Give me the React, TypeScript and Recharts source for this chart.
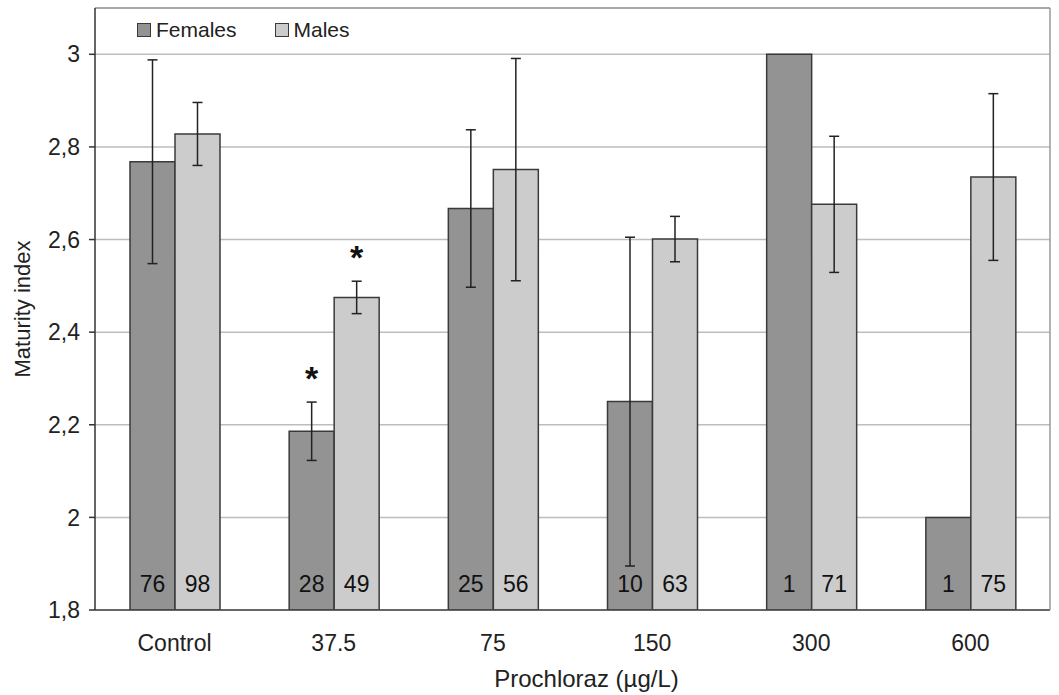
import {
  Bar,
  BarChart,
  CartesianGrid,
  ErrorBar,
  Label,
  LabelList,
  ReferenceLine,
  XAxis,
  YAxis,
} from 'recharts'

const categories = ['Control', '37.5', '75', '150', '300', '600']
const femaleMean = [2.768, 2.186, 2.667, 2.25, 3.0, 2.0]
const femaleErr = [0.22, 0.063, 0.17, 0.355, null, null]
const maleMean = [2.828, 2.475, 2.751, 2.601, 2.676, 2.735]
const maleErr = [0.068, 0.035, 0.24, 0.049, 0.147, 0.18]
const femaleN = [76, 28, 25, 10, 1, 1]
const maleN = [98, 49, 56, 63, 71, 75]
const femaleSig = [false, true, false, false, false, false]
const maleSig = [false, true, false, false, false, false]
const yTicks = [1.8, 2, 2.2, 2.4, 2.6, 2.8, 3]

const Y_MIN = 1.8
const Y_MAX = 3.1
const FONT = '"Liberation Sans", Arial, sans-serif'
const FEMALE_FILL = '#939393'
const MALE_FILL = '#cccccc'
const BAR_STROKE = '#3a3a3a'

const data = categories.map((c, i) => ({
  dose: c,
  female: femaleMean[i],
  femaleErr: femaleErr[i],
  male: maleMean[i],
  maleErr: maleErr[i],
}))

const fmtTick = (v: number) => {
  const r = Math.round(v * 10) / 10
  return Number.isInteger(r) ? String(r) : r.toFixed(1).replace('.', ',')
}

// count of fish, written near the bottom of each bar
const countLabel = (counts: number[]) => (props: any) => {
  const { x, y, width, height, index } = props
  return (
    <text
      x={x + width / 2}
      y={y + height - 18}
      textAnchor="middle"
      fontSize={23}
      fill="#111"
      fontFamily={FONT}
    >
      {counts[index]}
    </text>
  )
}

// asterisk above the error bar, placed with the bar's own pixel scale
const starLabel = (sig: boolean[], errs: (number | null)[]) => (props: any) => {
  const { x, y, width, height, value, index } = props
  if (!sig[index]) return null
  const pxPerUnit = height / (value - Y_MIN)
  const errTop = y - (errs[index] ?? 0) * pxPerUnit
  return (
    <text
      x={x + width / 2}
      y={errTop - 12}
      textAnchor="middle"
      fontSize={34}
      fontWeight="bold"
      fill="#111"
      fontFamily={FONT}
    >
      *
    </text>
  )
}

const legendItems = [
  { name: 'Females', fill: FEMALE_FILL },
  { name: 'Males', fill: MALE_FILL },
]

export default function App() {
  return (
    <div style={{ position: 'absolute', left: 0, top: 0, width: 1059, height: 695, fontFamily: FONT }}>
      <BarChart
        width={1059}
        height={695}
        data={data}
        margin={{ top: 8, right: 0, bottom: 0, left: 0 }}
        barGap={0}
        barSize={45}
      >
        <CartesianGrid vertical={false} stroke="#bdbdbd" strokeWidth={1.5} />
        <ReferenceLine y={Y_MAX} stroke="#9a9a9a" strokeWidth={1.5} />
        <XAxis
          dataKey="dose"
          height={85}
          tickLine={false}
          tickMargin={19}
          axisLine={{ stroke: '#444', strokeWidth: 1.5 }}
          tick={{ fill: '#222', fontSize: 23, fontFamily: FONT }}
        >
          <Label
            content={(p: any) => {
              const vb = p.viewBox || { x: 95, y: 610, width: 955, height: 85 }
              return (
                <text
                  x={vb.x + vb.width / 2 + 14}
                  y={vb.y + vb.height - 8}
                  textAnchor="middle"
                  fontSize={24}
                  fill="#222"
                  fontFamily={FONT}
                >
                  Prochloraz (µg/L)
                </text>
              )
            }}
          />
        </XAxis>
        <YAxis
          width={95}
          domain={[Y_MIN, Y_MAX]}
          ticks={yTicks}
          interval={0}
          allowDataOverflow
          tickFormatter={fmtTick}
          tickSize={6}
          tickMargin={9}
          axisLine={{ stroke: '#333', strokeWidth: 1.5 }}
          tickLine={{ stroke: '#333', strokeWidth: 1.5 }}
          tick={{ fill: '#222', fontSize: 23, fontFamily: FONT }}
        >
          <Label
            content={(p: any) => {
              const vb = p.viewBox || { x: 0, y: 8, width: 95, height: 602 }
              const cx = 22
              const cy = vb.y + vb.height / 2
              return (
                <text
                  x={cx}
                  y={cy}
                  transform={`rotate(-90 ${cx} ${cy})`}
                  textAnchor="middle"
                  dominantBaseline="central"
                  fontSize={22}
                  fill="#222"
                  fontFamily={FONT}
                >
                  Maturity index
                </text>
              )
            }}
          />
        </YAxis>
        <YAxis
          yAxisId="frame"
          orientation="right"
          width={9}
          domain={[Y_MIN, Y_MAX]}
          tick={false}
          tickLine={false}
          axisLine={{ stroke: '#9a9a9a', strokeWidth: 1.5 }}
        />
        <Bar
          dataKey="female"
          name="Females"
          fill={FEMALE_FILL}
          stroke={BAR_STROKE}
          strokeWidth={1.5}
          isAnimationActive={false}
        >
          <ErrorBar dataKey="femaleErr" width={5} stroke="#222" strokeWidth={1.5} direction="y" />
          <LabelList dataKey="female" content={countLabel(femaleN)} />
          <LabelList dataKey="female" content={starLabel(femaleSig, femaleErr)} />
        </Bar>
        <Bar
          dataKey="male"
          name="Males"
          fill={MALE_FILL}
          stroke={BAR_STROKE}
          strokeWidth={1.5}
          isAnimationActive={false}
        >
          <ErrorBar dataKey="maleErr" width={5} stroke="#222" strokeWidth={1.5} direction="y" />
          <LabelList dataKey="male" content={countLabel(maleN)} />
          <LabelList dataKey="male" content={starLabel(maleSig, maleErr)} />
        </Bar>
      </BarChart>
      <div
        style={{
          position: 'absolute',
          left: 137,
          top: 19,
          display: 'flex',
          gap: 38,
          fontSize: 21,
          color: '#222',
          lineHeight: '22px',
        }}
      >
        {legendItems.map((it) => (
          <div key={it.name} style={{ display: 'flex', alignItems: 'center', gap: 5 }}>
            <span
              style={{
                display: 'inline-block',
                width: 12,
                height: 12,
                background: it.fill,
                border: `1.5px solid ${BAR_STROKE}`,
              }}
            />
            <span>{it.name}</span>
          </div>
        ))}
      </div>
    </div>
  )
}
